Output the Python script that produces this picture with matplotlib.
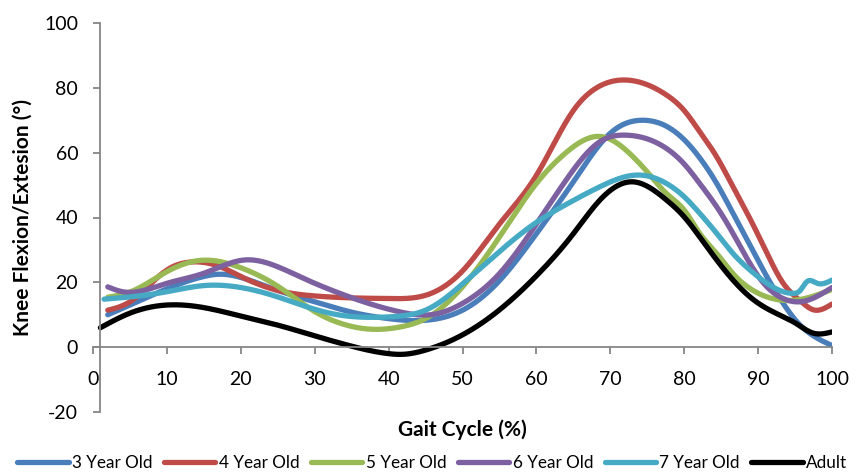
import numpy as np
import matplotlib
matplotlib.use("Agg")
import matplotlib.pyplot as plt

plt.rcParams['font.family'] = ['Lato', 'DejaVu Sans']
plt.rcParams['axes.unicode_minus'] = False

# knee angle readings (deg) against gait cycle (%)
x_3yo = [2, 5, 10, 15, 17, 20, 25, 30, 35, 40, 45, 50, 55, 60, 65, 70, 74.5, 77, 80, 82, 84.4, 86.6, 89, 91.2, 93.4, 95, 100]
y_3yo = [10, 13, 18, 21.8, 22.5, 21.5, 17.5, 14, 10.8, 8.8, 8.3, 11.4, 20.5, 35, 51, 66, 70, 68.8, 64, 58.7, 50.5, 41.3, 31, 21.7, 13.5, 8.5, 0.5]

x_4yo = [2, 5, 10, 13.5, 17, 20, 25, 30, 35, 40, 45, 50, 55, 60, 65, 68, 72.2, 77.6, 80, 82, 84.4, 86.6, 89, 91.2, 93.4, 95.7, 97.5, 100]
y_4yo = [11.4, 14, 23.8, 26.3, 25, 21.8, 17.5, 15.8, 15.2, 15, 16, 23.5, 38, 53, 73, 79.8, 82.4, 77.8, 73, 66.8, 58.7, 49.5, 39.2, 29, 19.7, 14.3, 11.5, 13.3]

x_5yo = [2, 5, 10, 14.7, 20, 25, 30, 34, 38, 41.5, 45, 50, 55, 60, 64, 68.6, 73.1, 75.4, 77.6, 80, 82.1, 84.4, 86.6, 88.9, 91.2, 95, 100]
y_5yo = [15.4, 17, 23.3, 26.8, 24.5, 18.8, 11, 7, 5.5, 6.2, 8.8, 18.6, 34, 50.5, 60, 65, 58.7, 53, 47.4, 42.3, 35.1, 28.9, 22.7, 18.1, 15.5, 14.5, 17.8]

x_6yo = [2, 4, 10, 15, 20.5, 25, 29, 33.4, 38, 41.5, 45, 47.5, 50, 55, 60, 64, 68.6, 72.2, 77.6, 80, 82.1, 84.4, 86.6, 88.9, 91.2, 93.4, 95.7, 100]
y_6yo = [18.6, 17.1, 19.7, 22.8, 26.9, 24.8, 20.7, 16.6, 13, 10.9, 9.9, 10.9, 13.5, 22.7, 38, 51.5, 63.4, 65.4, 61.3, 56.5, 50.5, 43.3, 35.1, 25.8, 18.6, 15, 14, 18.4]

x_7yo = [1.5, 5, 10, 15, 20, 25, 29, 33.4, 38, 41.5, 45, 50, 55, 60, 64, 68.6, 73.8, 77.6, 80, 82.1, 84.4, 86.6, 88.9, 91.2, 93.4, 94.7, 95.7, 96.6, 98, 100]
y_7yo = [14.8, 15.5, 17.1, 19, 18.4, 15.5, 12.4, 9.9, 9.2, 9.6, 11.4, 19.5, 29.5, 38.5, 44, 49.5, 53.1, 50.5, 46.4, 41.3, 35.1, 28.9, 23.8, 19.7, 17.1, 16.6, 17.5, 20.2, 19.7, 20.7]

x_adult = [1, 5, 10, 15, 20, 25, 30, 35, 40, 42, 45, 47.5, 50, 55, 60, 65, 68.6, 73.1, 77.6, 80, 82.1, 84.4, 86.6, 88.9, 91.2, 93.4, 95, 97.5, 100]
y_adult = [6, 10.5, 13, 12.2, 9.6, 6.8, 3.5, 0.3, -2, -2.2, -0.9, 1.1, 3.8, 11.5, 22, 35, 45.4, 51, 45.4, 40.2, 34, 26.9, 20.7, 15.5, 11.9, 9.4, 7.5, 4.3, 4.7]

labels = ["3 Year Old", "4 Year Old", "5 Year Old", "6 Year Old", "7 Year Old", "Adult"]
colors = ["#4A7EBB", "#BE4B48", "#98B954", "#7D60A0", "#46AAC5", "#000000"]
x_ticks = list(range(0, 101, 10))
y_ticks = list(range(-20, 101, 20))


def smooth(xs, ys, n=30):
    # smoothed line through the read points (natural cubic spline)
    xs = np.asarray(xs, float)
    ys = np.asarray(ys, float)
    k = len(xs)
    h = np.diff(xs)
    A = np.zeros((k, k))
    b = np.zeros(k)
    A[0, 0] = A[-1, -1] = 1
    for i in range(1, k - 1):
        A[i, i - 1] = h[i - 1]
        A[i, i] = 2 * (h[i - 1] + h[i])
        A[i, i + 1] = h[i]
        b[i] = 6 * ((ys[i + 1] - ys[i]) / h[i] - (ys[i] - ys[i - 1]) / h[i - 1])
    M = np.linalg.solve(A, b)
    px, py = [], []
    for i in range(k - 1):
        t = np.linspace(xs[i], xs[i + 1], n)
        a = (xs[i + 1] - t) / h[i]
        c = (t - xs[i]) / h[i]
        y = a * ys[i] + c * ys[i + 1] + ((a ** 3 - a) * M[i] + (c ** 3 - c) * M[i + 1]) * h[i] ** 2 / 6
        px.append(t)
        py.append(y)
    return np.concatenate(px), np.concatenate(py)


fig = plt.figure(figsize=(8.66, 4.76), dpi=100)
ax = fig.add_axes([93 / 866, 1 - 412 / 476, 739 / 866, 389 / 476])

series = [(x_3yo, y_3yo), (x_4yo, y_4yo), (x_5yo, y_5yo), (x_6yo, y_6yo), (x_7yo, y_7yo), (x_adult, y_adult)]
for (xs, ys), lab, c in zip(series, labels, colors):
    sx, sy = smooth(xs, ys)
    ax.plot(sx, sy, color=c, lw=3.8, label=lab, solid_capstyle='round')

ax.set_xlim(0, 100)
ax.set_ylim(-20, 100)
ax.set_xticks(x_ticks)
ax.set_yticks(y_ticks)

axis_c = "#868686"
for s in ['top', 'right']:
    ax.spines[s].set_visible(False)
ax.spines['left'].set_position(('data', 1))
ax.spines['bottom'].set_position(('data', 0))
ax.spines['left'].set_color(axis_c)
ax.spines['bottom'].set_color(axis_c)
ax.spines['left'].set_linewidth(1.3)
ax.spines['bottom'].set_linewidth(1.3)
ax.tick_params(axis='y', direction='out', length=5, width=1.3, color=axis_c, labelsize=14, pad=11)
ax.tick_params(axis='x', direction='out', length=5, width=1.3, color=axis_c, labelsize=14, pad=12)

ax.set_xlabel("Gait Cycle (%)", fontsize=15, fontweight='bold')
ax.set_ylabel("Knee Flexion/Extesion (°)", fontsize=15, fontweight='bold')
ax.xaxis.set_label_coords(0.5, -0.02)
ax.yaxis.set_label_coords(-0.081, 0.5)

fig.legend(loc='center left', bbox_to_anchor=(0.02, 0.027), ncol=6, frameon=False,
           fontsize=12.3, handlelength=3.0, handletextpad=0.2, columnspacing=0.68,
           borderaxespad=0, borderpad=0)

fig.savefig("out.png", dpi=100)
